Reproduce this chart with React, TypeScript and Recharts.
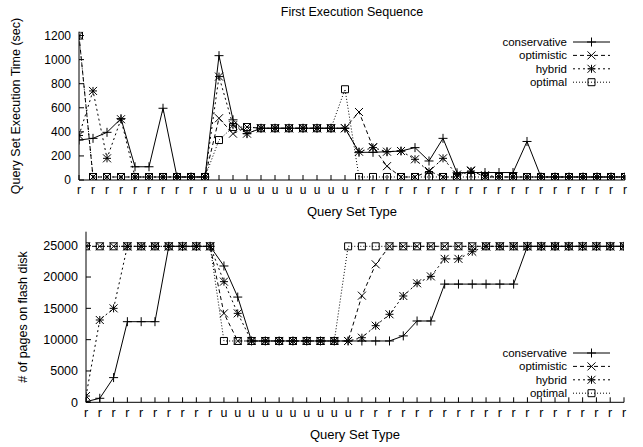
import React from 'react';
import { LineChart, Line, XAxis, YAxis, Legend } from 'recharts';

const categories = [
  'r', 'r', 'r', 'r', 'r', 'r', 'r', 'r', 'r', 'r',
  'u', 'u', 'u', 'u', 'u', 'u', 'u', 'u', 'u', 'u',
  'r', 'r', 'r', 'r', 'r', 'r', 'r', 'r', 'r', 'r',
  'r', 'r', 'r', 'r', 'r', 'r', 'r', 'r', 'r', 'r',
];

const seriesNames = ['conservative', 'optimistic', 'hybrid', 'optimal'];

// Top panel: query set execution time (sec)
const conservativeTime = [332, 346, 396, 510, 110, 110, 596, 25, 25, 25, 1033, 500, 385, 430, 430, 430, 430, 430, 430, 430, 230, 230, 235, 241, 269, 158, 346, 60, 62, 62, 62, 62, 320, 25, 25, 25, 25, 25, 25, 25];
const optimisticTime = [1200, 25, 25, 25, 25, 25, 25, 25, 25, 25, 513, 385, 440, 430, 430, 430, 430, 430, 430, 430, 565, 273, 115, 25, 25, 75, 25, 25, 80, 25, 25, 25, 25, 25, 25, 25, 25, 25, 25, 25];
const hybridTime = [370, 740, 180, 505, 25, 25, 25, 25, 25, 25, 859, 455, 385, 430, 430, 430, 430, 430, 430, 430, 235, 269, 235, 241, 172, 70, 180, 45, 75, 40, 25, 25, 25, 25, 25, 25, 25, 25, 25, 25];
const optimalTime = [1200, 25, 25, 25, 25, 25, 25, 25, 25, 25, 332, 440, 440, 430, 430, 430, 430, 430, 430, 754, 25, 25, 25, 25, 25, 25, 25, 25, 25, 25, 25, 25, 25, 25, 25, 25, 25, 25, 25, 25];

// Bottom panel: # of pages on flash disk
const conservativePages = [100, 640, 3940, 12870, 12870, 12870, 24900, 24900, 24900, 24900, 21760, 16800, 9790, 9790, 9790, 9790, 9790, 9790, 9790, 9790, 9790, 9790, 9790, 10600, 12980, 12980, 18870, 18870, 18870, 18870, 18870, 18870, 24900, 24900, 24900, 24900, 24900, 24900, 24900, 24900];
const optimisticPages = [24900, 24900, 24900, 24900, 24900, 24900, 24900, 24900, 24900, 24900, 14200, 9790, 9790, 9790, 9790, 9790, 9790, 9790, 9790, 9790, 17020, 22030, 24900, 24900, 24900, 24900, 24900, 24900, 24900, 24900, 24900, 24900, 24900, 24900, 24900, 24900, 24900, 24900, 24900, 24900];
const hybridPages = [1000, 13140, 15000, 24900, 24900, 24900, 24900, 24900, 24900, 24900, 19260, 14200, 9790, 9790, 9790, 9790, 9790, 9790, 9790, 9790, 10310, 12230, 14050, 16970, 19000, 20100, 22900, 22900, 24040, 24900, 24900, 24900, 24900, 24900, 24900, 24900, 24900, 24900, 24900, 24900];
const optimalPages = [24900, 24900, 24900, 24900, 24900, 24900, 24900, 24900, 24900, 24900, 9790, 9790, 9790, 9790, 9790, 9790, 9790, 9790, 9790, 24900, 24900, 24900, 24900, 24900, 24900, 24900, 24900, 24900, 24900, 24900, 24900, 24900, 24900, 24900, 24900, 24900, 24900, 24900, 24900, 24900];

const timeTicks = [0, 200, 400, 600, 800, 1000, 1200];
const pageTicks = [0, 5000, 10000, 15000, 20000, 25000];

const indices = categories.map((_, i) => i);

const topData = categories.map((c, i) => ({
  idx: i,
  type: c,
  conservative: conservativeTime[i],
  optimistic: optimisticTime[i],
  hybrid: hybridTime[i],
  optimal: optimalTime[i],
}));

const bottomData = categories.map((c, i) => ({
  idx: i,
  type: c,
  conservative: conservativePages[i],
  optimistic: optimisticPages[i],
  hybrid: hybridPages[i],
  optimal: optimalPages[i],
}));

const FONT = '"Liberation Sans", Arial, Helvetica, sans-serif';

type Marker = 'plus' | 'cross' | 'star' | 'square';

const seriesStyles: { key: string; dash?: string; marker: Marker }[] = [
  { key: seriesNames[0], dash: undefined, marker: 'plus' },
  { key: seriesNames[1], dash: '4 3', marker: 'cross' },
  { key: seriesNames[2], dash: '2 3', marker: 'star' },
  { key: seriesNames[3], dash: '1 2', marker: 'square' },
];

function markerPath(m: Marker, cx: number, cy: number): string {
  const p = 4.5;
  const c = 4;
  const s = 3.5;
  const plus = `M${cx - p},${cy}H${cx + p}M${cx},${cy - p}V${cy + p}`;
  const cross = `M${cx - c},${cy - c}L${cx + c},${cy + c}M${cx - c},${cy + c}L${cx + c},${cy - c}`;
  if (m === 'plus') return plus;
  if (m === 'cross') return cross;
  if (m === 'star') return `M${cx - c},${cy}H${cx + c}M${cx},${cy - c}V${cy + c}` + cross;
  return `M${cx - s},${cy - s}H${cx + s}V${cy + s}H${cx - s}Z`;
}

const makeDot = (m: Marker) => (props: any) => {
  const { cx, cy, index } = props;
  if (cx == null || cy == null) return <g key={`${m}-${index}`} />;
  return (
    <path key={`${m}-${index}`} d={markerPath(m, cx, cy)} stroke="#000" strokeWidth={1} fill="none" />
  );
};

function LegendBox() {
  const rowGap = 13.4;
  return (
    <svg width={150} height={56} style={{ overflow: 'visible', display: 'block' }}>
      {seriesStyles.map((s, i) => {
        const y = 6 + i * rowGap;
        return (
          <g key={s.key}>
            <text x={75} y={y} textAnchor="end" dominantBaseline="central" fontSize={11.5} fontFamily={FONT} fill="#000">
              {s.key}
            </text>
            <line x1={81} x2={118} y1={y} y2={y} stroke="#000" strokeWidth={1} strokeDasharray={s.dash} />
            <path d={markerPath(s.marker, 99.5, y)} stroke="#000" strokeWidth={1} fill="none" />
          </g>
        );
      })}
    </svg>
  );
}

const lineStroke = { stroke: '#000', strokeWidth: 1 };

function Panel(props: {
  data: any[];
  height: number;
  marginTop: number;
  marginRight: number;
  yWidth: number;
  xHeight: number;
  domainMax: number;
  yTicks: number[];
  legendLeft: number;
  legendTop: number;
  tickFont: number;
}) {
  const { data, height, marginTop, marginRight, yWidth, xHeight, domainMax, yTicks, legendLeft, legendTop, tickFont } = props;
  const tickStyle = { fontSize: tickFont, fill: '#000', fontFamily: FONT };
  return (
    <LineChart width={643} height={height} data={data} margin={{ top: marginTop, right: marginRight, bottom: 0, left: 0 }}>
      <XAxis
        xAxisId={0}
        type="number"
        dataKey="idx"
        domain={[0, 39]}
        ticks={indices}
        interval={0}
        tickFormatter={(v: number) => categories[v]}
        height={xHeight}
        tickSize={-5}
        tickMargin={10.5}
        tick={tickStyle}
        axisLine={lineStroke}
        tickLine={lineStroke}
        allowDataOverflow
      />
      <XAxis
        xAxisId="top"
        orientation="top"
        type="number"
        dataKey="idx"
        domain={[0, 39]}
        ticks={indices}
        interval={0}
        height={0}
        tickSize={-5}
        tick={false}
        axisLine={lineStroke}
        tickLine={lineStroke}
        allowDataOverflow
      />
      <YAxis
        yAxisId="left"
        type="number"
        width={yWidth}
        domain={[0, domainMax]}
        ticks={yTicks}
        interval={0}
        tickSize={-5}
        tickMargin={13}
        tick={tickStyle}
        axisLine={lineStroke}
        tickLine={lineStroke}
        allowDataOverflow
      />
      <YAxis
        yAxisId="right"
        orientation="right"
        type="number"
        width={0}
        domain={[0, domainMax]}
        ticks={yTicks}
        interval={0}
        tickSize={-5}
        tick={false}
        axisLine={lineStroke}
        tickLine={lineStroke}
        allowDataOverflow
      />
      <Legend
        layout="horizontal"
        verticalAlign="middle"
        align="center"
        content={() => <LegendBox />}
        wrapperStyle={{ left: legendLeft, top: legendTop, width: 150, height: 56 }}
      />
      {seriesStyles.map((s) => (
        <Line
          key={s.key}
          xAxisId={0}
          yAxisId="left"
          type="linear"
          dataKey={s.key}
          name={s.key}
          stroke="#000"
          strokeWidth={1}
          strokeDasharray={s.dash}
          dot={makeDot(s.marker)}
          activeDot={false}
          isAnimationActive={false}
        />
      ))}
    </LineChart>
  );
}

export default function App() {
  const textProps = { fontFamily: FONT, fill: '#000' };
  return (
    <div style={{ position: 'absolute', left: 0, top: 0, width: 643, height: 447, background: '#fff' }}>
      <div style={{ position: 'absolute', left: 0, top: 0 }}>
        <Panel
          data={topData}
          height={220}
          marginTop={31.7}
          marginRight={18}
          yWidth={79}
          xHeight={40}
          domainMax={1232}
          yTicks={timeTicks}
          legendLeft={492}
          legendTop={36}
          tickFont={12}
        />
      </div>
      <div style={{ position: 'absolute', left: 0, top: 220 }}>
        <Panel
          data={bottomData}
          height={227}
          marginTop={11.7}
          marginRight={19}
          yWidth={86}
          xHeight={44.7}
          domainMax={27235}
          yTicks={pageTicks}
          legendLeft={492}
          legendTop={127}
          tickFont={12.5}
        />
      </div>
      <svg
        width={643}
        height={447}
        style={{ position: 'absolute', left: 0, top: 0, pointerEvents: 'none' }}
      >
        <text x={352} y={12} textAnchor="middle" dominantBaseline="central" fontSize={12.5} {...textProps}>
          First Execution Sequence
        </text>
        <text x={352} y={211} textAnchor="middle" dominantBaseline="central" fontSize={13} {...textProps}>
          Query Set Type
        </text>
        <text
          transform="translate(16,106) rotate(-90)"
          textAnchor="middle"
          dominantBaseline="central"
          fontSize={12.5}
          {...textProps}
        >
          Query Set Execution Time (sec)
        </text>
        <text x={355} y={434} textAnchor="middle" dominantBaseline="central" fontSize={13} {...textProps}>
          Query Set Type
        </text>
        <text
          transform="translate(22.5,317) rotate(-90)"
          textAnchor="middle"
          dominantBaseline="central"
          fontSize={12.5}
          {...textProps}
        >
          # of pages on flash disk
        </text>
      </svg>
    </div>
  );
}
